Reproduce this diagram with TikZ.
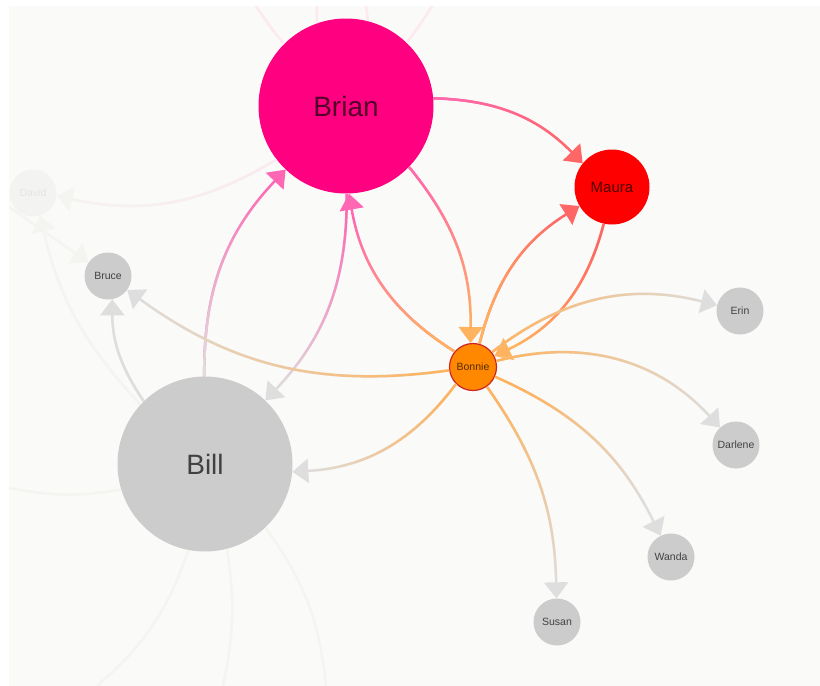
\documentclass[tikz,border=0pt]{standalone}
\usepackage{fontspec}
\setmainfont{Liberation Sans}
\usetikzlibrary{arrows.meta,fadings}

\definecolor{paper}{HTML}{FAFAF8}
\definecolor{brianpink}{HTML}{FF0080}
\definecolor{maurared}{HTML}{FF0000}
\definecolor{bonnieorange}{HTML}{FF8800}
\definecolor{bonnierim}{HTML}{CC2424}
\definecolor{nodegrey}{HTML}{CCCCCC}
\definecolor{ghostgrey}{HTML}{F3F3F1}
\definecolor{brianline}{HTML}{FF66B3}
\definecolor{mauraline}{HTML}{FF6666}
\definecolor{bonnieline}{HTML}{FFB35E}
\definecolor{greyline}{HTML}{DEDEDE}
\definecolor{ghostline}{HTML}{F4F4F1}
\definecolor{ghostpink}{HTML}{FCE9F2}

\tikzset{
  person/.style={circle, inner sep=0pt, text=black, text opacity=.68},
  bignode/.style={person, minimum size=175pt, font=\fontsize{28}{32}\selectfont},
  midnode/.style={person, minimum size=75pt, font=\fontsize{15}{18}\selectfont},
  smallnode/.style={person, minimum size=47pt, font=\fontsize{10.5}{12}\selectfont},
  arrowhead/.style={-{Triangle[length=16pt,width=24pt]}},
  % colour of the target, source colour laid over it and faded out
  linkto/.style n args={4}{line width=2.5pt, bend left=#3, draw=#2, arrowhead,
    postaction={draw=#1, -, shorten >=16pt, path fading=east, fading angle=#4}},
  faint/.style={line width=2.5pt, draw=#1},
}

\begin{document}
\begin{tikzpicture}[x=1pt, y=1pt]
  \useasboundingbox (0,0) rectangle (820,-686);
  \fill[white] (0,0) rectangle (820,-686);
  \fill[paper] (9,-6) rectangle (820,-686);

  % people
  \node[bignode, fill=brianpink] (brian) at (346,-106) {Brian};
  \node[bignode, fill=nodegrey] (bill) at (205,-464) {Bill};
  \node[midnode, fill=maurared] (maura) at (612,-187) {Maura};
  \node[smallnode, fill=bonnieorange, draw=bonnierim, line width=1.2pt] (bonnie) at (473,-367) {Bonnie};
  \node[smallnode, fill=nodegrey] (bruce) at (108,-276) {Bruce};
  \node[smallnode, fill=ghostgrey, text opacity=.06] (david) at (33,-193) {David};
  \node[smallnode, fill=nodegrey] (erin) at (740,-311) {Erin};
  \node[smallnode, fill=nodegrey] (darlene) at (736,-445) {Darlene};
  \node[smallnode, fill=nodegrey] (wanda) at (671,-557) {Wanda};
  \node[smallnode, fill=nodegrey] (susan) at (557,-622) {Susan};

  % links leaving the view
  \coordinate (northA) at (256,-6);
  \coordinate (northB) at (317,-6);
  \coordinate (northC) at (366,-6);
  \coordinate (northD) at (432,-6);
  \coordinate (westA) at (9,-207);
  \coordinate (westB) at (9,-488);
  \coordinate (southA) at (97,-686);
  \coordinate (southB) at (223,-686);
  \coordinate (southC) at (326,-686);

  \path
    (brian) edge[faint=ghostpink, bend left=3] (northA)
    (brian) edge[faint=ghostpink, bend left=3] (northB)
    (brian) edge[faint=ghostpink, bend right=3] (northC)
    (brian) edge[faint=ghostpink, bend right=3] (northD)
    (brian) edge[linkto={ghostpink}{ghostline}{22}{182}] (david)
    (bill) edge[linkto={ghostline}{ghostline}{15}{120}] (david)
    (westA) edge[faint=ghostline, arrowhead] (bruce)
    (bill) edge[faint=ghostline, bend left=10] (westB)
    (bill) edge[faint=ghostline, bend left=15] (southA)
    (bill) edge[faint=ghostline, bend left=10] (southB)
    (bill) edge[faint=ghostline, bend left=15] (southC);

  % links in view
  \path
    (brian) edge[linkto={brianline}{mauraline}{22}{-9}] (maura)
    (bill) edge[linkto={greyline}{brianline}{22}{81}] (brian)
    (brian) edge[linkto={brianline}{greyline}{22}{260}] (bill)
    (bonnie) edge[linkto={bonnieline}{brianline}{24}{111}] (brian)
    (brian) edge[linkto={brianline}{bonnieline}{20}{-82}] (bonnie)
    (bonnie) edge[linkto={bonnieline}{mauraline}{22}{63}] (maura)
    (maura) edge[linkto={mauraline}{bonnieline}{25}{234}] (bonnie)
    (bonnie) edge[linkto={bonnieline}{greyline}{26}{3}] (erin)
    (bonnie) edge[linkto={bonnieline}{greyline}{31}{-5}] (darlene)
    (bonnie) edge[linkto={bonnieline}{greyline}{20}{-40}] (wanda)
    (bonnie) edge[linkto={bonnieline}{greyline}{17}{-83}] (susan)
    (bonnie) edge[linkto={bonnieline}{greyline}{25}{192}] (bill)
    (bonnie) edge[linkto={bonnieline}{greyline}{22}{176}] (bruce)
    (bill) edge[linkto={greyline}{greyline}{17}{97}] (bruce);
\end{tikzpicture}
\end{document}
